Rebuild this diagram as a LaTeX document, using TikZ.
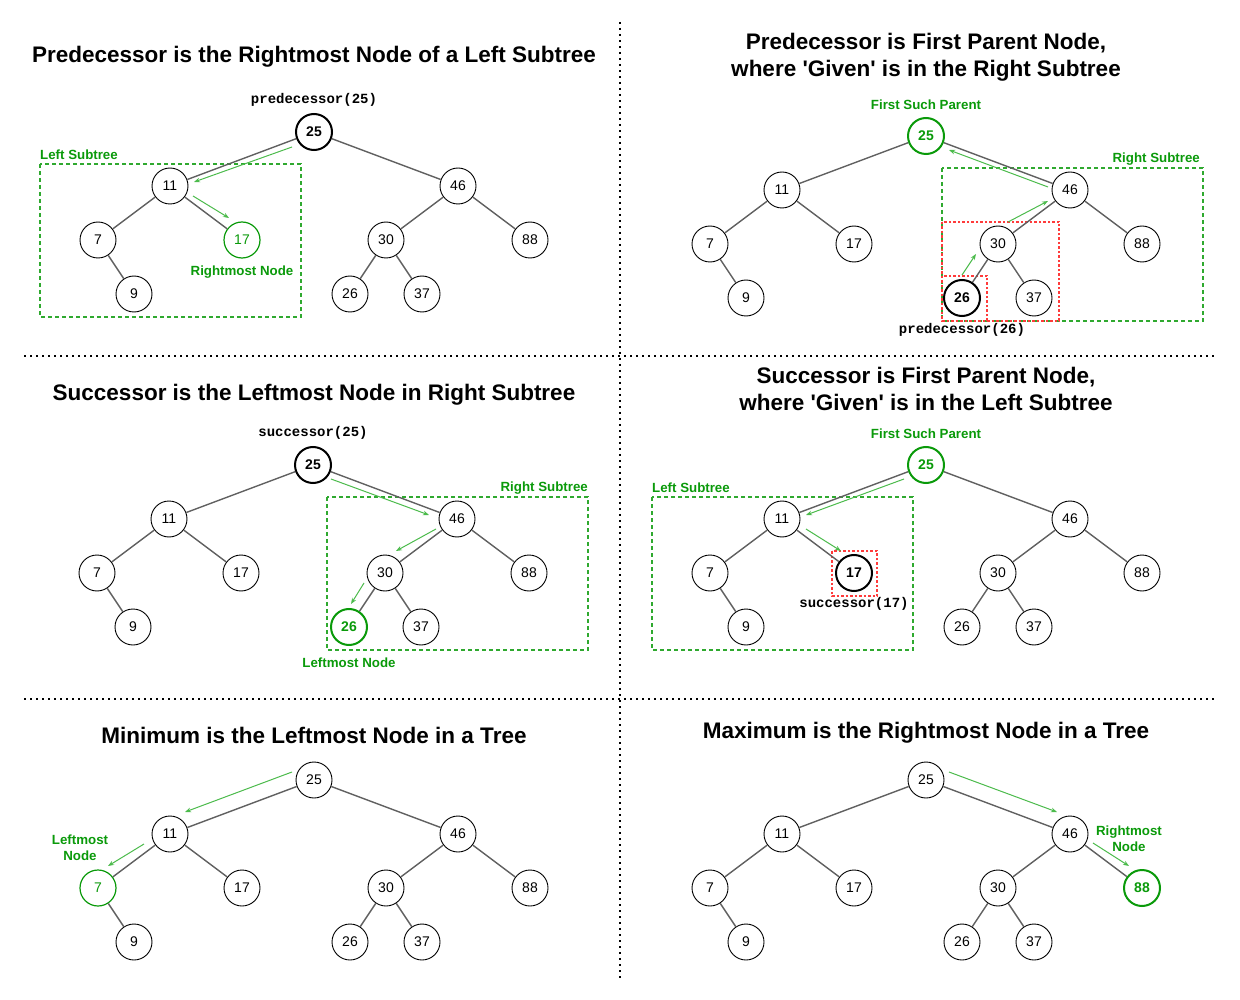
\documentclass[tikz,border=0pt]{standalone}
\usepackage{fontspec}
\setmainfont{Liberation Sans}[Ligatures=TeXOff]
\setmonofont{Liberation Mono}
\usetikzlibrary{arrows.meta}
\definecolor{gtxt}{HTML}{0A9A0A}
\definecolor{garr}{HTML}{4CBB4C}
\definecolor{edgec}{HTML}{606060}
\definecolor{redd}{HTML}{FF3B3B}
\tikzset{
 tnode/.style={circle, draw=black, line width=0.9pt, fill=white, minimum size=36pt, inner sep=0pt, font=\fontsize{14}{16}\selectfont},
 boldnode/.style={line width=2pt, font=\fontsize{14}{16}\selectfont\bfseries},
 gnode/.style={draw=gtxt, text=gtxt, line width=1.2pt},
 gbnode/.style={draw=gtxt, text=gtxt, line width=2pt, font=\fontsize{14}{16}\selectfont\bfseries},
 tedge/.style={draw=edgec, line width=1.4pt},
 garrow/.style={draw=garr, line width=1pt, -{Stealth[length=6pt,width=4.5pt]}},
 gbox/.style={draw=gtxt!85!white, dash pattern=on 4pt off 3pt, line width=1.2pt},
 rbox/.style={draw=redd, dash pattern=on 2.5pt off 2pt, line width=1.1pt},
 ttl/.style={font=\fontsize{22.5}{27}\selectfont\bfseries, align=center},
 glabel/.style={text=gtxt, font=\fontsize{13.3}{16}\selectfont\bfseries, inner sep=0pt, align=center},
 mlabel/.style={font=\fontsize{14}{16}\selectfont\ttfamily\bfseries, inner sep=0pt},
 divider/.style={line width=1.6pt, dash pattern=on 1.6pt off 4.4pt}
}
\newcommand\bstree[3]{%
 \node[tnode, hl#125/.try] (#125) at (#2,#3) {25};
 \node[tnode, hl#111/.try] (#111) at (#2-144,#3+54) {11};
 \node[tnode, hl#146/.try] (#146) at (#2+144,#3+54) {46};
 \node[tnode, hl#17/.try] (#17) at (#2-216,#3+108) {7};
 \node[tnode, hl#117/.try] (#117) at (#2-72,#3+108) {17};
 \node[tnode, hl#130/.try] (#130) at (#2+72,#3+108) {30};
 \node[tnode, hl#188/.try] (#188) at (#2+216,#3+108) {88};
 \node[tnode, hl#19/.try] (#19) at (#2-180,#3+162) {9};
 \node[tnode, hl#126/.try] (#126) at (#2+36,#3+162) {26};
 \node[tnode, hl#137/.try] (#137) at (#2+108,#3+162) {37};
 \draw[tedge] (#125) -- (#111);
 \draw[tedge] (#125) -- (#146);
 \draw[tedge] (#111) -- (#17);
 \draw[tedge] (#111) -- (#117);
 \draw[tedge] (#146) -- (#130);
 \draw[tedge] (#146) -- (#188);
 \draw[tedge] (#17) -- (#19);
 \draw[tedge] (#130) -- (#126);
 \draw[tedge] (#130) -- (#137);
}
\tikzset{
 hla25/.style={boldnode}, hla17/.style={gnode},
 hlb25/.style={gbnode}, hlb26/.style={boldnode},
 hlc25/.style={boldnode}, hlc26/.style={gbnode},
 hld25/.style={gbnode}, hld17/.style={boldnode},
 hle7/.style={gnode},
 hlf88/.style={gbnode}
}
\begin{document}
\begin{tikzpicture}[x=1pt,y=-1pt]
\useasboundingbox[fill=white] (0,0) rectangle (1240,1000);
% dividers
\coordinate (v1) at (620,22); \coordinate (v2) at (620,978);
\coordinate (h1a) at (24,356); \coordinate (h1b) at (1215,356);
\coordinate (h2a) at (24,699); \coordinate (h2b) at (1215,699);
\draw[divider] (v1) -- (v2);
\draw[divider] (h1a) -- (h1b);
\draw[divider] (h2a) -- (h2b);

% ---------- Panel 1
\node[ttl] (t1) at (314,56.5) {Predecessor is the Rightmost Node of a Left Subtree};
\draw[gbox] (40,164) rectangle (301,317);
\node[glabel, anchor=west] (ls1) at (40,155) {Left Subtree};
\node[mlabel] (m1) at (314,100) {predecessor(25)};
\bstree{a}{314}{132}
\node[glabel] (rn1) at (242,272) {Rightmost Node};
\draw[garrow] ([shift={(-22,15)}]a25.center) -- ([shift={(24,-4)}]a11.center);
\draw[garrow] ([shift={(23,10)}]a11.center) -- ([shift={(-13,-22)}]a17.center);

% ---------- Panel 2
\node[ttl] (t2) at (926,57.5) {Predecessor is First Parent Node,\\where 'Given' is in the Right Subtree};
\draw[gbox] (942,168) rectangle (1203,321);
\draw[rbox] (942,222) rectangle (1059,321);
\draw[rbox] (942,276) rectangle (987,321);
\node[glabel] (fp2) at (926,105) {First Such Parent};
\node[glabel, anchor=east] (rs2) at (1200,159) {Right Subtree};
\bstree{b}{926}{136}
\node[mlabel] (m2) at (962,330) {predecessor(26)};
\draw[garrow] ([shift={(0,-23)}]b26.center) -- ([shift={(-22,10)}]b30.center);
\draw[garrow] ([shift={(10,-22)}]b30.center) -- ([shift={(-22,11)}]b46.center);
\draw[garrow] ([shift={(-22,-3)}]b46.center) -- ([shift={(23,14)}]b25.center);

% ---------- Panel 3
\node[ttl] (t3) at (314,394.5) {Successor is the Leftmost Node in Right Subtree};
\draw[gbox] (327,497) rectangle (588,650);
\node[glabel, anchor=east] (rs3) at (588,488) {Right Subtree};
\node[mlabel] (m3) at (313,433) {successor(25)};
\bstree{c}{313}{465}
\node[glabel] (ln3) at (349,663) {Leftmost Node};
\draw[garrow] ([shift={(18,14)}]c25.center) -- ([shift={(-28,-4)}]c46.center);
\draw[garrow] ([shift={(-21,10)}]c46.center) -- ([shift={(11,-22)}]c30.center);
\draw[garrow] ([shift={(-21,10)}]c30.center) -- ([shift={(2,-23)}]c26.center);

% ---------- Panel 4
\node[ttl] (t4) at (926,389) {Successor is First Parent Node,\\where 'Given' is in the Left Subtree};
\draw[gbox] (652,497) rectangle (913,650);
\draw[rbox] (832,551) rectangle (877,596);
\node[glabel] (fp4) at (926,434) {First Such Parent};
\node[glabel, anchor=west] (ls4) at (652,488) {Left Subtree};
\bstree{d}{926}{465}
\node[mlabel] (m4) at (854,604) {successor(17)};
\draw[garrow] ([shift={(-22,14)}]d25.center) -- ([shift={(24,-4)}]d11.center);
\draw[garrow] ([shift={(24,10)}]d11.center) -- ([shift={(-13,-22)}]d17.center);

% ---------- Panel 5
\node[ttl] (t5) at (314,735.5) {Minimum is the Leftmost Node in a Tree};
\bstree{e}{314}{780}
\node[glabel] (ln5) at (80,848) {Leftmost\\Node};
\draw[garrow] ([shift={(-22,-8)}]e25.center) -- ([shift={(15,-22)}]e11.center);
\draw[garrow] ([shift={(-26,10)}]e11.center) -- ([shift={(10,-22)}]e7.center);

% ---------- Panel 6
\node[ttl] (t6) at (926,732.5) {Maximum is the Rightmost Node in a Tree};
\bstree{f}{926}{780}
\node[glabel] (rn6) at (1129,839) {Rightmost\\Node};
\draw[garrow] ([shift={(23,-8)}]f25.center) -- ([shift={(-13,-22)}]f46.center);
\draw[garrow] ([shift={(23,9)}]f46.center) -- ([shift={(-13,-22)}]f88.center);
\end{tikzpicture}
\end{document}
